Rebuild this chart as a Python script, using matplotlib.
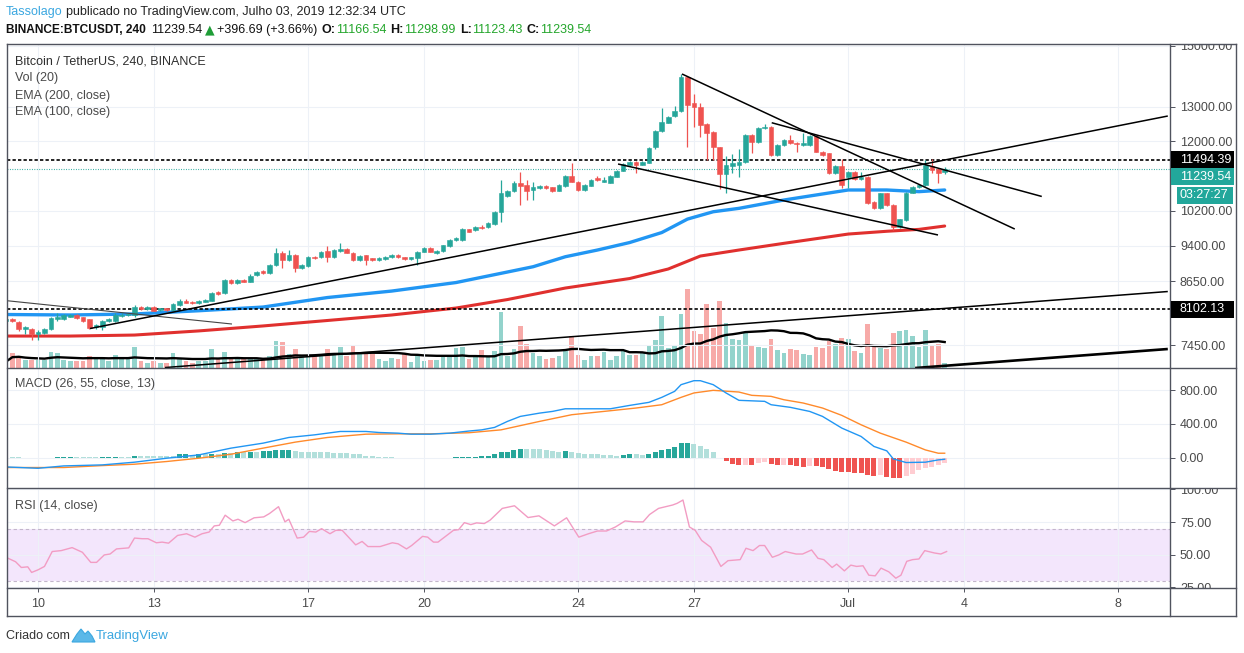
import numpy as np
import pandas as pd
import matplotlib
matplotlib.use("Agg")
import matplotlib.pyplot as plt
from matplotlib.lines import Line2D
from matplotlib.patches import Rectangle, Polygon
from matplotlib.ticker import FixedLocator, NullLocator, FuncFormatter
from matplotlib.transforms import Bbox

# ------------------------------------------------------------------ data
opens = [7880, 7917, 7867, 7729, 7740, 7644, 7657, 7729, 7912, 7912,
         7960, 7992, 7949, 7912, 7776, 7765, 7885, 7885, 7973, 7985,
         7985, 8148, 8104, 8148, 8085, 8117, 8085, 8181, 8263, 8244,
         8212, 8244, 8263, 8438, 8405, 8673, 8605, 8673, 8640, 8775,
         8857, 8816, 8982, 9244, 9088, 9195, 8910, 8960, 9160, 9147,
         9285, 9160, 9280, 9318, 9244, 9088, 9188, 9124, 9088, 9102,
         9147, 9195, 9147, 9102, 9124, 9265, 9340, 9244, 9280, 9390,
         9523, 9523, 9763, 9748, 9825, 9810, 9887, 10175, 10560, 10680,
         10890, 10830, 10710, 10760, 10805, 10770, 10690, 10805, 11062, 10915,
         10705, 10815, 11000, 10915, 10890, 11045, 11195, 11355, 11440, 11355,
         11410, 11828, 12280, 12530, 12720, 12880, 13930, 13110, 13010, 12490,
         12260, 11830, 11110, 11330, 11350, 11420, 12174, 11985, 12365, 12415,
         11617, 11892, 12032, 11955, 11892, 11892, 12145, 11710, 11660, 11145,
         11320, 11045, 11175, 10985, 11030, 10420, 10255, 10622, 10335, 9820,
         9978, 10640, 10775, 10830, 11320, 11250, 11166.54]
highs = [7936, 7936, 7875, 7790, 7760, 7716, 7745, 7960, 8025, 8010,
         8010, 8005, 7960, 7920, 7820, 7900, 7940, 8030, 8020, 8030,
         8190, 8170, 8160, 8170, 8130, 8130, 8215, 8290, 8300, 8255,
         8275, 8290, 8440, 8460, 8690, 8690, 8690, 8690, 8790, 8860,
         8870, 9000, 9347, 9280, 9303, 9210, 9000, 9180, 9180, 9290,
         9395, 9320, 9455, 9340, 9260, 9190, 9200, 9140, 9150, 9180,
         9220, 9210, 9160, 9160, 9280, 9360, 9360, 9300, 9420, 9545,
         9580, 9790, 9780, 9840, 9860, 9930, 10200, 10958, 10700, 10930,
         11175, 10958, 10900, 10830, 10830, 10790, 10850, 11090, 11400, 10930,
         10850, 10980, 11050, 11040, 11080, 11220, 11395, 11460, 11460, 11460,
         11830, 12320, 12960, 12730, 13040, 14050, 13980, 13400, 13130, 12520,
         12280, 11850, 11600, 11650, 11780, 12200, 12200, 12390, 12490, 12440,
         11910, 12050, 12174, 11980, 12220, 12170, 12170, 11730, 11680, 11340,
         11500, 11200, 11200, 11175, 11050, 10440, 10640, 10640, 10350, 10010,
         10660, 10810, 10850, 11482, 11520, 11280, 11298.99]
lows = [7862, 7862, 7698, 7644, 7538, 7538, 7640, 7716, 7885, 7900,
        7950, 7920, 7870, 7740, 7740, 7716, 7870, 7870, 7960, 7970,
        7960, 8095, 8085, 8060, 8075, 8075, 8060, 8170, 8215, 8200,
        8200, 8230, 8250, 8380, 8390, 8590, 8595, 8630, 8630, 8760,
        8800, 8800, 8970, 8920, 9070, 8843, 8890, 8950, 9110, 9130,
        9053, 9140, 9260, 9230, 9070, 9070, 8982, 9060, 9070, 9090,
        9130, 9135, 9088, 9090, 8982, 9250, 9250, 9225, 9265, 9380,
        9500, 9510, 9695, 9730, 9770, 9795, 9870, 9940, 10540, 10660,
        10335, 10457, 10457, 10740, 10740, 10660, 10670, 10790, 10900, 10690,
        10690, 10800, 10940, 10900, 10870, 11030, 11180, 11340, 11140, 11340,
        11390, 11780, 12260, 12510, 12700, 12860, 11830, 12410, 12130, 11482,
        11482, 10720, 10620, 11130, 11040, 11400, 11660, 11960, 12340, 11600,
        11590, 11870, 11920, 11700, 11870, 11870, 11690, 11600, 11120, 11120,
        10745, 10745, 10950, 10970, 10360, 10230, 10230, 10315, 9748, 9800,
        9960, 10620, 10760, 10810, 11140, 10880, 11123.43]
closes = [7912, 7875, 7729, 7776, 7644, 7674, 7729, 7930, 7949, 7992,
          7992, 7930, 7885, 7758, 7807, 7885, 7923, 7992, 7998, 8005,
          8148, 8104, 8136, 8072, 8117, 8085, 8200, 8263, 8225, 8212,
          8263, 8277, 8418, 8392, 8673, 8605, 8673, 8640, 8760, 8843,
          8816, 8982, 9244, 9088, 9195, 8910, 8982, 9160, 9125, 9270,
          9160, 9303, 9325, 9244, 9088, 9173, 9088, 9088, 9124, 9160,
          9195, 9147, 9102, 9147, 9265, 9340, 9265, 9285, 9405, 9523,
          9560, 9770, 9710, 9825, 9787, 9915, 10175, 10620, 10680, 10890,
          10805, 10680, 10770, 10805, 10760, 10680, 10830, 11062, 10915, 10705,
          10830, 10958, 10958, 10958, 11062, 11200, 11375, 11440, 11355, 11440,
          11800, 12297, 12540, 12710, 12880, 13950, 13058, 13010, 12462, 12240,
          11830, 11110, 11340, 11400, 11420, 12174, 11985, 12365, 12415, 11617,
          11892, 12032, 11940, 11910, 11955, 12145, 11710, 11617, 11145, 11320,
          10830, 11175, 10975, 11030, 10380, 10255, 10622, 10335, 9820, 9995,
          10640, 10790, 10830, 11349, 11217, 11140, 11239.54]
volumes = [6.3, 15.3, 12, 8, 8, 8, 8, 16.3, 15.3, 8,
           7, 7, 7, 12, 9.7, 9.7, 7, 13.3, 9.7, 9.7,
           20.7, 7.3, 5.3, 7.3, 5.3, 5.3, 14.7, 9.7, 7, 5.3,
           7, 7, 18.7, 9.7, 16.3, 10.3, 10.3, 8.7, 10, 9,
           10, 12.3, 26.7, 25.7, 14.3, 19, 11.7, 11.7, 11.7, 13.3,
           19, 13.3, 21, 11.7, 21.7, 14.3, 14.3, 14.3, 9, 6.7,
           10, 9, 14.3, 5.7, 11.7, 7.3, 7.7, 7.7, 11.7, 11.7,
           20, 21, 9, 11.7, 18.3, 11.7, 16.7, 56, 12.5, 18.7,
           42.3, 24, 15, 11.7, 9, 10, 11.7, 16.7, 32.3, 13.3,
           8.3, 11.7, 11.7, 15.7, 8.3, 11.7, 17.3, 13.3, 13.3, 15,
           21.7, 28.3, 52.3, 20, 23.3, 54, 79.3, 37.3, 34.3, 64,
           40, 66.7, 45, 29.5, 28.3, 35, 23.3, 21, 20, 29.3,
           18.3, 15, 19.3, 18.3, 14, 13.3, 21, 20, 27.3, 24,
           30, 29.3, 17.3, 15, 44.3, 21, 20, 19.3, 35, 36.7,
           37.7, 31.7, 21, 37.7, 22.7, 24, 5]

ema100_x = [0, 10, 20, 30, 40, 50, 60, 70, 78, 82, 87, 92, 97, 102, 106, 110, 114,
            121, 127, 131, 137, 142, 146]
ema100_p = [8001, 7992, 8011, 8072, 8142, 8325, 8452, 8622, 8837, 8947, 9158, 9303,
            9467, 9691, 10001, 10174, 10255, 10457, 10605, 10705, 10705, 10663, 10705]
ema200_x = [0, 10, 20, 30, 40, 50, 60, 70, 78, 87, 97, 103, 108, 114, 121, 131, 137, 142, 146]
ema200_p = [7608, 7608, 7626, 7700, 7790, 7890, 7992, 8123, 8286, 8512, 8703, 8899,
            9173, 9303, 9450, 9657, 9720, 9763, 9840]

macd_x = [0, 5, 9, 15, 20, 25, 30, 35, 40, 44, 48, 52, 56, 58, 61, 63, 66, 69, 72, 74,
          76, 78, 80, 83, 85, 87, 90, 94, 97, 100, 102, 104, 105, 107, 108, 110, 112, 114,
          118, 119, 122, 125, 127, 130, 133, 135, 137, 138, 140, 143, 145, 146]
macd_v = [-109, -125, -97, -85, -53, -6, 33, 113, 172, 239, 270, 310, 310, 298, 290, 278,
          278, 290, 315, 329, 358, 429, 488, 527, 547, 578, 578, 578, 618, 654, 713, 784,
          863, 910, 910, 863, 765, 678, 666, 626, 595, 547, 488, 350, 251, 133, 81, -14,
          -57, -53, -26, -18]
signal_x = [0, 9, 15, 20, 25, 30, 35, 40, 45, 50, 56, 61, 66, 72, 77, 83, 88, 93, 98, 102,
            105, 107, 110, 114, 116, 119, 121, 124, 127, 130, 133, 136, 140, 143, 145, 146]
signal_v = [-116, -116, -93, -77, -45, -6, 41, 113, 184, 239, 278, 282, 282, 295, 329, 429,
            508, 547, 587, 626, 713, 765, 796, 776, 737, 725, 685, 646, 587, 500, 389, 290,
            184, 92, 53, 53]
macd_hist = [6, 5, 4, 0, 0, 0, 0, 0, 10, 11,
             12, 12, 12, 4, 4, 5, 6, 12, 12, 12,
             24, 24, 24, 24, 24, 23, 20, 40, 41, 35,
             40, 40, 47, 47, 51, 51, 63, 63, 71, 71,
             79, 80, 90, 91, 92, 79, 72, 71, 64, 63,
             62, 61, 51, 50, 43, 40, 25, 24, 9, 8,
             4, 0, 0, -8, 0, 0, 0, 0, 0, 0,
             8, 9, 12, 13, 24, 25, 40, 63, 71, 95,
             101, 99, 98, 97, 96, 83, 71, 79, 71, 59,
             47, 40, 39, 28, 27, 26, 29, 40, 39, 28,
             40, 63, 91, 103, 130, 170, 171, 158, 142, 103,
             71, 0, -40, -79, -87, -86, -88, -67, -55, -79,
             -87, -85, -87, -99, -107, -95, -99, -115, -134, -158,
             -166, -167, -178, -186, -205, -213, -208, -225, -237, -238,
             -213, -197, -146, -126, -107, -87, -67]

rsi_x = [0.0, 1.5, 2.4, 3.4, 4.0, 5.0, 6.0, 7.2, 8.6, 10.3, 11.9, 13.2, 14.1, 15.3, 16.2,
         17.2, 19.1, 20.0, 21.2, 22.1, 23.4, 24.3, 25.3, 26.7, 28.1, 29.4, 30.5, 31.6, 32.4,
         33.2, 34.1, 35.3, 36.1, 37.2, 38.6, 40.1, 41.0, 42.4, 43.4, 44.0, 45.3, 46.3, 47.2,
         48.2, 49.1, 50.4, 51.3, 52.3, 54.4, 55.4, 56.3, 58.2, 60.1, 61.0, 62.3, 63.1, 64.8,
         65.6, 66.5, 67.2, 69.6, 70.4, 71.3, 72.3, 73.2, 74.4, 75.3, 77.2, 79.1, 81.2, 82.9,
         85.3, 87.2, 89.1, 90.6, 92.0, 93.4, 94.8, 96.3, 97.7, 99.1, 100.1, 101.5, 103.7,
         104.4, 105.3, 106.3, 107.2, 108.2, 109.6, 111.2, 112.3, 114.2, 115.1, 116.2, 117.2,
         118.0, 119.2, 120.2, 121.2, 122.9, 123.9, 125.3, 126.3, 127.2, 128.5, 129.2, 130.4,
         131.4, 132.3, 133.3, 134.2, 135.2, 136.1, 137.3, 138.4, 139.2, 140.1, 141.0, 142.0,
         142.9, 144.4, 145.4, 146.3]
rsi_v = [48.1, 44.7, 40.3, 40.8, 36.5, 38.5, 41.1, 52.5, 53.2, 55.5, 51.9, 44.2, 44.2, 49.9,
         50.6, 54.5, 55.3, 62.8, 62.3, 62.3, 59.2, 59.7, 58.9, 64.8, 66.1, 63.5, 66.1, 67.4,
         72.1, 72.6, 80.3, 75.9, 77.2, 74.6, 78.3, 79.0, 81.6, 86.8, 75.2, 77.2, 62.8, 63.5,
         67.9, 67.4, 70.0, 66.1, 68.7, 68.7, 57.6, 60.2, 56.3, 56.3, 59.2, 58.4, 54.5, 57.1,
         64.1, 63.5, 59.7, 59.7, 68.7, 69.2, 74.6, 73.1, 74.4, 73.9, 76.5, 85.5, 87.5, 78.5,
         79.8, 72.1, 78.3, 63.5, 66.1, 68.2, 68.2, 71.3, 75.9, 75.2, 75.2, 80.8, 85.5, 88.1,
         89.4, 91.9, 71.3, 68.7, 61.0, 55.8, 41.1, 45.5, 46.3, 55.0, 53.2, 57.1, 57.1, 48.1,
         49.9, 52.5, 50.6, 50.6, 53.7, 47.3, 46.3, 40.3, 42.9, 37.7, 42.1, 41.1, 41.6, 34.4,
         33.9, 39.8, 37.0, 32.1, 34.4, 45.0, 46.3, 46.8, 53.2, 51.4, 50.6, 52.5]

# trendlines drawn on the chart: (candle index, price) end points
trend_x0 = [0.12, 13.08, 105.15, 119.1, 95.2, 24.74, 141.4]
trend_p0 = [8264, 7743, 14040, 12528, 11375, 7068, 7060]
trend_x1 = [35.16, 180.7, 156.9, 161.1, 144.96, 180.7, 180.7]
trend_p1 = [7825, 12726, 9771, 10544, 9636, 8443, 7381]
hlevels = [11494.39, 8102.13]
last_price = 11239.54
countdown = "03:27:27"

start_time = pd.Timestamp("2019-06-09 04:00")
tick_dates = ["2019-06-10", "2019-06-13", "2019-06-17", "2019-06-20", "2019-06-24",
              "2019-06-27", "2019-07-01", "2019-07-04", "2019-07-08"]
tick_labels = ["10", "13", "17", "20", "24", "27", "Jul", "4", "8"]
price_ticks = [7450, 8650, 9400, 10200, 12000, 13000, 15000]
macd_ticks = [0, 400, 800]
rsi_ticks = [25, 50, 75, 100]

# ------------------------------------------------------------------ style
W, H = 1244, 653
FONT = ["Liberation Sans", "DejaVu Sans"]
plt.rcParams["font.family"] = FONT
plt.rcParams["font.size"] = 9
TEAL = "#26a69a"
RED = "#ef5350"
FRAME = "#50535e"
TXT = "#4a4a4a"
GRID = "#edf1f7"

fig = plt.figure(figsize=(W / 100, H / 100), dpi=100)
fig.patch.set_facecolor("white")


def axrect(x0, y0, x1, y1):
    return [x0 / W, 1 - y1 / H, (x1 - x0) / W, (y1 - y0) / H]


PX0, PX1 = 7, 1170
XLIM = ((PX0 - 5.9) / 6.43, (PX1 - 5.9) / 6.43)

ax_vol = fig.add_axes(axrect(PX0, 44, PX1, 368))
ax_main = fig.add_axes(axrect(PX0, 44, PX1, 368))
ax_macd = fig.add_axes(axrect(PX0, 368, PX1, 488))
ax_rsi = fig.add_axes(axrect(PX0, 488, PX1, 588))
ax_vol.set_zorder(1)
ax_main.set_zorder(2)
ax_main.set_facecolor("none")

o = np.array(opens, float)
h = np.array(highs, float)
l = np.array(lows, float)
c = np.array(closes, float)
v = np.array(volumes, float)
x = np.arange(len(c))
up = c >= o
cols = np.where(up, TEAL, RED)

tick_pos = [(pd.Timestamp(d) - start_time) / pd.Timedelta(hours=4) for d in tick_dates]

# volume (behind)
ax_vol.bar(x, v, width=0.72, color=np.where(up, "#93d3cc", "#f7aaa8"), linewidth=0)
ax_vol.plot(x, pd.Series(v).rolling(20, min_periods=1).mean(), color="black", lw=1.7)
ax_vol.set_xlim(*XLIM)
ax_vol.set_ylim(0, 324)
ax_vol.axis("off")

# main price panel
ax_main.set_yscale("log")
ax_main.set_xlim(*XLIM)
ax_main.set_ylim(7060.5, 15059.7)
ax_main.vlines(x, l, h, colors=cols, linewidth=0.9, zorder=4)
ax_main.bar(x, np.abs(c - o), bottom=np.minimum(o, c), width=0.72, color=cols,
            edgecolor=cols, linewidth=0.4, zorder=5)
ax_main.plot(ema200_x, ema200_p, color="#e0302e", lw=2.2, zorder=3, solid_capstyle="round")
ax_main.plot(ema100_x, ema100_p, color="#2196f3", lw=2.4, zorder=3, solid_capstyle="round")
styles = [dict(color="#444444", lw=0.8), dict(color="black", lw=1.1), dict(color="black", lw=1.1),
          dict(color="black", lw=1.1), dict(color="black", lw=1.1), dict(color="black", lw=1.1),
          dict(color="black", lw=1.9)]
for xa, pa, xb, pb, st in zip(trend_x0, trend_p0, trend_x1, trend_p1, styles):
    ax_main.plot([xa, xb], [pa, pb], zorder=7, solid_capstyle="butt", **st)
for lev in hlevels:
    ax_main.axhline(lev, color="black", lw=1.2, dashes=(2.0, 1.3), zorder=3)
ax_main.axhline(last_price, color=TEAL, lw=0.8, dashes=(0.8, 1.4), zorder=3)

ax_main.yaxis.set_major_locator(FixedLocator(price_ticks))
ax_main.yaxis.set_minor_locator(NullLocator())
ax_main.yaxis.set_major_formatter(FuncFormatter(lambda val, pos: f"{val:.2f}"))

# MACD panel
ax_macd.set_xlim(*XLIM)
ax_macd.set_ylim(-358, 1060)
hcols = []
prev = macd_hist[0]
for val in macd_hist:
    if val >= 0:
        hcols.append(TEAL if val > prev else "#b2dfdb")
    else:
        hcols.append(RED if val < prev else "#ffcdd2")
    prev = val
ax_macd.bar(x, macd_hist, width=0.78, color=hcols, linewidth=0, zorder=2)
ax_macd.plot(signal_x, signal_v, color="#ff8a2b", lw=1.0, zorder=3)
ax_macd.plot(macd_x, macd_v, color="#2196f3", lw=1.0, zorder=4)
ax_macd.yaxis.set_major_locator(FixedLocator(macd_ticks))
ax_macd.yaxis.set_major_formatter(FuncFormatter(lambda val, pos: f"{val:.2f}"))

# RSI panel
ax_rsi.set_xlim(*XLIM)
ax_rsi.set_ylim(24.6, 101.1)
ax_rsi.axhspan(30, 70, color="#f3e6fc", zorder=0, lw=0)
for lev in (30, 70):
    ax_rsi.axhline(lev, color="#c3b6cb", lw=0.8, dashes=(3, 2.5), zorder=1)
ax_rsi.plot(rsi_x, rsi_v, color="#f29cc3", lw=1.0, zorder=3)
ax_rsi.yaxis.set_major_locator(FixedLocator(rsi_ticks))
ax_rsi.yaxis.set_major_formatter(FuncFormatter(lambda val, pos: f"{val:.2f}"))

for ax in (ax_main, ax_macd, ax_rsi):
    for s in ax.spines.values():
        s.set_visible(False)
    ax.set_xticks(tick_pos)
    ax.grid(True, color=GRID, lw=0.8, zorder=0)
    ax.set_axisbelow(True)
    ax.yaxis.tick_right()
    ax.tick_params(axis="y", which="major", right=True, left=False, labelright=True,
                   labelleft=False, length=3.6, width=0.7, color=FRAME, pad=3.6,
                   labelsize=9, labelcolor=TXT)
    ax.tick_params(axis="y", which="minor", length=0)
    ax.tick_params(axis="x", length=0, labelbottom=False)
ax_rsi.set_xticklabels(tick_labels)
ax_rsi.tick_params(axis="x", length=3, width=0.7, color=FRAME, labelbottom=True, pad=4.5,
                   labelsize=9, labelcolor=TXT)

# frame lines
def fline(x0, y0, x1, y1, lw=1.0):
    fig.add_artist(Line2D([x0 / W, x1 / W], [1 - y0 / H, 1 - y1 / H], color=FRAME, lw=lw,
                          transform=fig.transFigure, zorder=20))

fline(7, 44, 1236, 44)
fline(7, 616, 1236, 616)
fline(7, 44, 7, 616)
fline(1236, 44, 1236, 616)
fline(1170, 44, 1170, 616)
for yy in (368, 488, 588):
    fline(7, yy, 1236, yy)

# panel legends
def ftext(px, py, s, **kw):
    kw.setdefault("fontsize", 9)
    kw.setdefault("va", "center")
    kw.setdefault("ha", "left")
    return fig.text(px / W, 1 - py / H, s, **kw)

ftext(15, 61, "Bitcoin / TetherUS, 240, BINANCE", color="#2e2e2e")
ftext(15, 78, "Vol (20)", color=TXT)
ftext(15, 95.5, "EMA (200, close)", color=TXT)
ftext(15, 112, "EMA (100, close)", color=TXT)
ftext(15, 384.5, "MACD (26, 55, close, 13)", color=TXT)
ftext(15, 506, "RSI (14, close)", color=TXT)

# header
renderer = fig.canvas.get_renderer()

def put_seq(px, py, pieces):
    cur = px
    for s, gap, kw in pieces:
        cur += gap
        t = ftext(cur, py, s, **kw)
        bb = t.get_window_extent(renderer)
        cur = bb.x1

GREEN = "#24a62c"
put_seq(6, 12.5, [("Tassolago", 0, dict(color="#3ba7e0")),
                  ("publicado no TradingView.com, Julho 03, 2019 12:32:34 UTC", 3.5,
                   dict(color="#222222"))])
put_seq(6, 30, [("BINANCE:BTCUSDT, 240", 0, dict(color="#111111", fontweight="bold",
                                                  fontsize=8.6)),
                ("11239.54", 5, dict(color="#111111")),
                ("\u25B2", 2.5, dict(color="#1f9d37", family=["DejaVu Sans"], fontsize=9)),
                ("+396.69 (+3.66%)", 2.5, dict(color="#111111")),
                ("O:", 4.5, dict(color="#111111", fontweight="bold")),
                ("11166.54", 0.5, dict(color=GREEN)),
                ("H:", 4, dict(color="#111111", fontweight="bold")),
                ("11298.99", 0.5, dict(color=GREEN)),
                ("L:", 4, dict(color="#111111", fontweight="bold")),
                ("11123.43", 0.5, dict(color=GREEN)),
                ("C:", 4, dict(color="#111111", fontweight="bold")),
                ("11239.54", 0.5, dict(color=GREEN))])

# price label boxes on the right scale
def price_disp_y(p):
    return ax_main.transData.transform((XLIM[0], p))[1]

def label_box(yc, text, fc, x0=1171, x1=1234, hh=17, tx=1180):
    fig.add_artist(Rectangle((x0 / W, (yc - hh / 2) / H), (x1 - x0) / W, hh / H,
                             transform=fig.transFigure, fc=fc, ec="none", zorder=21))
    fig.text(tx / W, yc / H, text, color="white", fontsize=9, va="center", ha="left",
             zorder=22)

y_hi = price_disp_y(hlevels[0])
label_box(y_hi, f"{hlevels[0]:.2f}", "black")
y_last = min(price_disp_y(last_price), y_hi - 17)
label_box(y_last, f"{last_price:.2f}", "#22a79b")
label_box(y_last - 18.5, countdown, "#22a79b", x0=1177, x1=1233)
label_box(price_disp_y(hlevels[1]), f"{hlevels[1]:.2f}", "black")

# footer
ftext(6, 636, "Criado com", color="#333333")
fig.add_artist(Polygon([(72 / W, 1 - 642 / H), (77 / W, 1 - 634 / H), (81 / W, 1 - 629 / H),
                        (85 / W, 1 - 634 / H), (88 / W, 1 - 631 / H), (92 / W, 1 - 636 / H),
                        (95 / W, 1 - 642 / H)], closed=True, transform=fig.transFigure,
                       fc="#5bb8e8", ec="#3ba7e0", lw=0.8))
ftext(96, 636, "TradingView", color="#3ba7e0", fontsize=9.5)

# clip right-scale labels to their panels
fig.canvas.draw()
clips = {ax_main: (285, 609), ax_macd: (165, 285), ax_rsi: (65, 165)}
for ax, (ya, yb) in clips.items():
    bb = Bbox.from_extents(1171, ya, 1236, yb)
    for lab in ax.get_yticklabels():
        lab.set_clip_on(True)
        lab.set_clip_box(bb)

fig.savefig("out.png", dpi=100, facecolor="white")
